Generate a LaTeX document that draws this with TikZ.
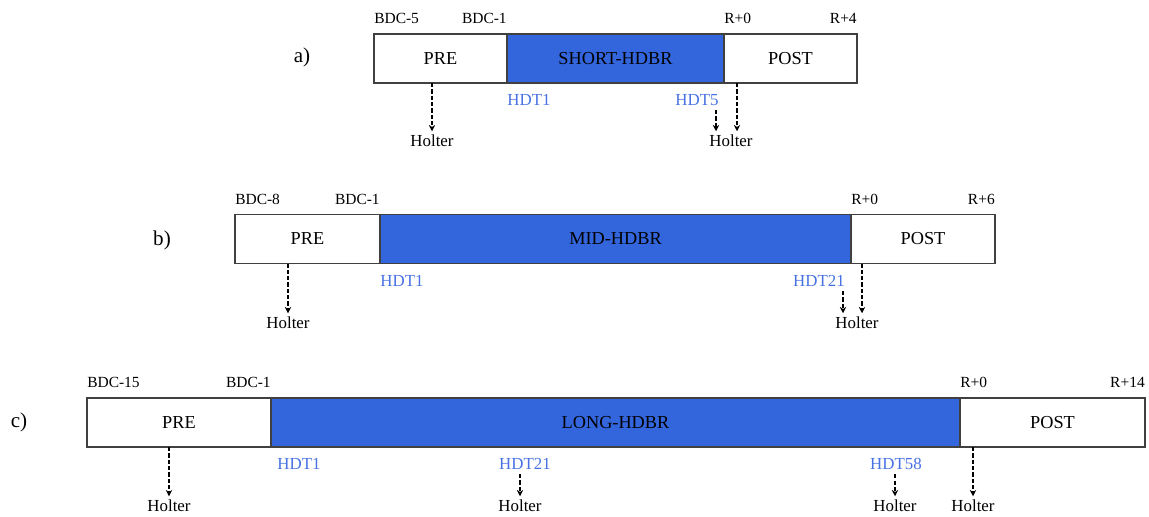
\documentclass[tikz,border=0pt]{standalone}
\usepackage{fontspec}
\setmainfont{Liberation Serif}
\usetikzlibrary{arrows.meta,positioning}
\definecolor{hdbrblue}{RGB}{51,102,221}
\definecolor{hdtblue}{RGB}{72,114,226}

\begin{document}
\begin{tikzpicture}[
    x=0.025cm, y=-0.025cm,
    phase/.style={rectangle, draw=black!75, line width=0.8pt, minimum height=1.225cm, inner sep=0pt, outer sep=0pt, font=\fontsize{13}{15}\selectfont},
    bed/.style={phase, fill=hdbrblue},
    day/.style={font=\fontsize{11}{13}\selectfont, inner sep=0pt},
    hdt/.style={font=\fontsize{12}{14}\selectfont, text=hdtblue, inner sep=0pt},
    holter/.style={font=\fontsize{12}{14}\selectfont, inner sep=2.5pt},
    tag/.style={font=\fontsize{15}{17}\selectfont},
    meas/.style={->, dashed, dash pattern=on 3pt off 1.5pt, line width=0.9pt},
    >={Stealth[length=4.5pt,width=4.5pt]}
]
\useasboundingbox (0,0) rectangle (1149,517);

% a) short
\node[tag] (taga) at (302,57) {a)};
\node[bed, minimum width=217*0.025cm] (mida) at (615.5,58.5) {SHORT-HDBR};
\node[phase, minimum width=133*0.025cm, left=0pt of mida] (prea) {PRE};
\node[phase, minimum width=133*0.025cm, right=0pt of mida] (posta) {POST};
\node[day, anchor=south west] (bdc5a) at ([yshift=7pt]prea.north west) {BDC-5};
\node[day, anchor=south east] (bdc1a) at ([yshift=7pt]mida.north west) {BDC-1};
\node[day, anchor=south west] (r0a) at ([yshift=7pt]mida.north east) {R+0};
\node[day, anchor=south east] (r4a) at ([yshift=7pt]posta.north east) {R+4};
\node[hdt] (hdt1a) at (529,100) {HDT1};
\node[hdt] (hdt5a) at (697,100) {HDT5};
\node[holter] (hola1) at (432,141) {Holter};
\node[holter] (hola2) at (731,141) {Holter};
\coordinate (ca5) at (716,0);
\coordinate (capost) at (737,0);
\draw[meas] (prea.south -| hola1) -- (hola1);
\draw[meas] ([yshift=-3pt]hdt5a.south -| ca5) -- (ca5 |- hola2.north);
\draw[meas] (posta.south -| capost) -- (capost |- hola2.north);

% b) mid
\node[tag] (tagb) at (162,240) {b)};
\node[bed, minimum width=471*0.025cm] (midb) at (615.5,239) {MID-HDBR};
\node[phase, minimum width=145*0.025cm, left=0pt of midb] (preb) {PRE};
\node[phase, minimum width=144*0.025cm, right=0pt of midb] (postb) {POST};
\node[day, anchor=south west] (bdc8b) at ([yshift=7pt]preb.north west) {BDC-8};
\node[day, anchor=south east] (bdc1b) at ([yshift=7pt]midb.north west) {BDC-1};
\node[day, anchor=south west] (r0b) at ([yshift=7pt]midb.north east) {R+0};
\node[day, anchor=south east] (r6b) at ([yshift=7pt]postb.north east) {R+6};
\node[hdt] (hdt1b) at (402,281) {HDT1};
\node[hdt] (hdt21b) at (819,281) {HDT21};
\node[holter] (holb1) at (288,323) {Holter};
\node[holter] (holb2) at (857,323) {Holter};
\coordinate (cb21) at (843,0);
\coordinate (cbpost) at (862,0);
\draw[meas] (preb.south -| holb1) -- (holb1);
\draw[meas] ([yshift=-3pt]hdt21b.south -| cb21) -- (cb21 |- holb2.north);
\draw[meas] (postb.south -| cbpost) -- (cbpost |- holb2.north);

% c) long
\node[tag] (tagc) at (19,422) {c)};
\node[bed, minimum width=689*0.025cm] (midc) at (615.5,422.5) {LONG-HDBR};
\node[phase, minimum width=184*0.025cm, left=0pt of midc] (prec) {PRE};
\node[phase, minimum width=185*0.025cm, right=0pt of midc] (postc) {POST};
\node[day, anchor=south west] (bdc15c) at ([yshift=7pt]prec.north west) {BDC-15};
\node[day, anchor=south east] (bdc1c) at ([yshift=7pt]midc.north west) {BDC-1};
\node[day, anchor=south west] (r0c) at ([yshift=7pt]midc.north east) {R+0};
\node[day, anchor=south east] (r14c) at ([yshift=7pt]postc.north east) {R+14};
\node[hdt] (hdt1c) at (299,464) {HDT1};
\node[hdt] (hdt21c) at (525,464) {HDT21};
\node[hdt] (hdt58c) at (896,464) {HDT58};
\node[holter] (holc1) at (169,506) {Holter};
\node[holter] (holc2) at (520,506) {Holter};
\node[holter] (holc3) at (895,506) {Holter};
\node[holter] (holc4) at (973,506) {Holter};
\draw[meas] (prec.south -| holc1) -- (holc1);
\draw[meas] ([yshift=-3pt]hdt21c.south -| holc2) -- (holc2);
\draw[meas] ([yshift=-3pt]hdt58c.south -| holc3) -- (holc3);
\draw[meas] (postc.south -| holc4) -- (holc4);

\end{tikzpicture}
\end{document}
